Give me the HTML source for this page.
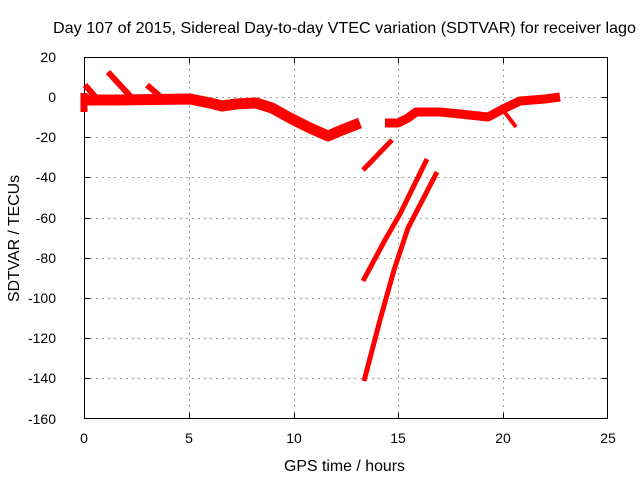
<!DOCTYPE html>
<html><head><style>body{margin:0;background:#fff}svg{display:block}</style></head><body>
<svg width="640" height="480" xmlns="http://www.w3.org/2000/svg" font-family="Liberation Sans, sans-serif" font-size="14">
<rect width="640" height="480" fill="#fff"/>
<g stroke="#a0a0a0" stroke-dasharray="2,4" stroke-width="1">
<line x1="84" y1="57.5" x2="608" y2="57.5"/><line x1="84" y1="97.5" x2="608" y2="97.5"/><line x1="84" y1="137.5" x2="608" y2="137.5"/><line x1="84" y1="177.5" x2="608" y2="177.5"/><line x1="84" y1="218.5" x2="608" y2="218.5"/><line x1="84" y1="258.5" x2="608" y2="258.5"/><line x1="84" y1="298.5" x2="608" y2="298.5"/><line x1="84" y1="338.5" x2="608" y2="338.5"/><line x1="84" y1="378.5" x2="608" y2="378.5"/>
<line x1="189.5" y1="57" x2="189.5" y2="419"/><line x1="294.5" y1="57" x2="294.5" y2="419"/><line x1="398.5" y1="57" x2="398.5" y2="419"/><line x1="503.5" y1="57" x2="503.5" y2="419"/>
</g>
<rect x="84.5" y="57.5" width="523" height="361" fill="none" stroke="#000"/>
<g stroke="#000"><line x1="189.5" y1="419" x2="189.5" y2="413"/><line x1="294.5" y1="419" x2="294.5" y2="413"/><line x1="398.5" y1="419" x2="398.5" y2="413"/><line x1="503.5" y1="419" x2="503.5" y2="413"/>
<line x1="189.5" y1="57" x2="189.5" y2="63"/><line x1="294.5" y1="57" x2="294.5" y2="63"/><line x1="398.5" y1="57" x2="398.5" y2="63"/><line x1="503.5" y1="57" x2="503.5" y2="63"/>
<line x1="84" y1="97.5" x2="90" y2="97.5"/><line x1="84" y1="137.5" x2="90" y2="137.5"/><line x1="84" y1="177.5" x2="90" y2="177.5"/><line x1="84" y1="218.5" x2="90" y2="218.5"/><line x1="84" y1="258.5" x2="90" y2="258.5"/><line x1="84" y1="298.5" x2="90" y2="298.5"/><line x1="84" y1="338.5" x2="90" y2="338.5"/><line x1="84" y1="378.5" x2="90" y2="378.5"/>
<line x1="602" y1="97.5" x2="608" y2="97.5"/><line x1="602" y1="137.5" x2="608" y2="137.5"/><line x1="602" y1="177.5" x2="608" y2="177.5"/><line x1="602" y1="218.5" x2="608" y2="218.5"/><line x1="602" y1="258.5" x2="608" y2="258.5"/><line x1="602" y1="298.5" x2="608" y2="298.5"/><line x1="602" y1="338.5" x2="608" y2="338.5"/><line x1="602" y1="378.5" x2="608" y2="378.5"/>
</g>
<g fill="none" stroke="#f00" stroke-linejoin="round">
<polyline stroke-width="11" points="86,100 120,100 190,99 210,103 222,106 236,104 256,103 272,108 290,118 310,128 328,136 342,130 360,123"/>
<polyline stroke-width="6" points="85,85 98,100"/>
<polyline stroke-width="6" points="108,72 132,98"/>
<polyline stroke-width="6" points="147,85 162,98"/>
<polyline stroke-width="7" points="84,93 84,112"/>
<polyline stroke-width="9" points="385,123 398,123 408,118 416,112 440,112 460,114 488,117 505,108 520,101 545,99 560,97"/>
<polyline stroke-width="4" points="503,110 516,127"/>
<polyline stroke-width="5" points="363,170 392,140"/>
<polyline stroke-width="5" points="363,281 385,240 400,214 427,159"/>
<polyline stroke-width="5" points="364,381 380,320 394,270 408,228 437,172"/>
</g>
<g text-anchor="end"><text x="56" y="62">20</text><text x="56" y="102">0</text><text x="56" y="142">-20</text><text x="56" y="182">-40</text><text x="56" y="223">-60</text><text x="56" y="263">-80</text><text x="56" y="303">-100</text><text x="56" y="343">-120</text><text x="56" y="383">-140</text><text x="56" y="424">-160</text></g>
<g text-anchor="middle"><text x="84" y="443">0</text><text x="189" y="443">5</text><text x="294" y="443">10</text><text x="398" y="443">15</text><text x="503" y="443">20</text><text x="608" y="443">25</text></g>
<g font-size="16">
<text x="284" y="471" textLength="121" lengthAdjust="spacingAndGlyphs">GPS time / hours</text>
<text x="53" y="33" textLength="583" lengthAdjust="spacingAndGlyphs">Day 107 of 2015, Sidereal Day-to-day VTEC variation (SDTVAR) for receiver lago</text>
<text transform="translate(19,302) rotate(-90)" textLength="127" lengthAdjust="spacingAndGlyphs">SDTVAR / TECUs</text></g>
</svg>
</body></html>
